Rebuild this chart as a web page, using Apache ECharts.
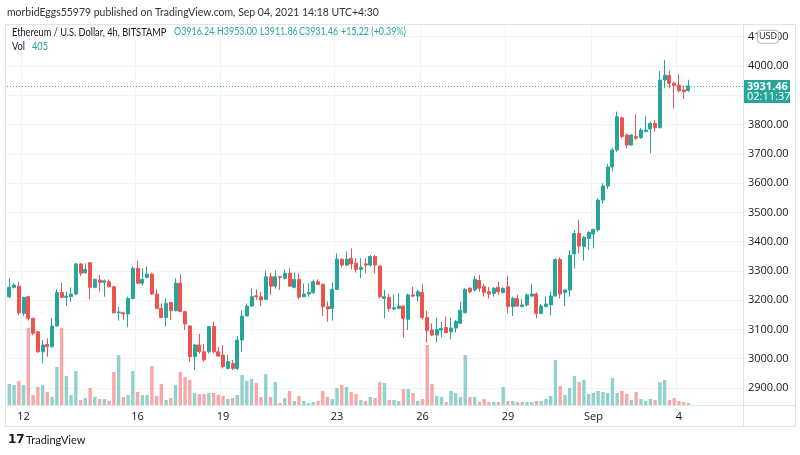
<!DOCTYPE html>
<html><head><meta charset="utf-8">
<script src="https://cdn.jsdelivr.net/npm/echarts@6.0.0/dist/echarts.min.js"></script>
<style>html,body{margin:0;padding:0;background:#fff}#c{width:800px;height:455px}</style>
</head><body><div id="c"></div>
<script>
// ---- data (ETH/USD 4h, Bitstamp) ----
const startMs = Date.UTC(2021, 7, 11, 12);
const stepMs = 4 * 3600 * 1000;
const slotCount = 155; // candles + empty future slots
const opens = [
3212,3244,3248,3155,3212,3138,3092,3024,3049,3041,3112,3226,
3210,3212,3221,3324,3294,3328,3244,3269,3261,3263,3246,3157,
3157,3153,3206,3309,3258,3278,3289,3221,3172,3141,3192,3164,
3258,3161,3112,3007,3047,3024,3024,3110,3024,3013,2967,2984,
2967,3064,3146,3180,3215,3212,3203,3280,3248,3280,3275,3292,
3244,3271,3212,3221,3226,3263,3254,3178,3172,3237,3340,3320,
3343,3326,3305,3324,3320,3349,3317,3206,3210,3170,3172,3180,
3135,3218,3214,3226,3141,3098,3081,3098,3107,3092,3105,3121,
3157,3241,3235,3267,3246,3229,3223,3244,3226,3246,3178,3206,
3178,3184,3214,3221,3155,3178,3184,3214,3339,3226,3235,3358,
3428,3383,3411,3426,3440,3542,3590,3655,3713,3823,3764,3730,
3759,3755,3776,3785,3804,3789,3952,3967,3941,3935,3918,3916.24];
const highs = [
3275,3258,3263,3212,3214,3140,3095,3064,3070,3140,3237,3260,
3229,3244,3326,3326,3326,3330,3275,3286,3271,3271,3249,3176,
3161,3212,3315,3335,3309,3315,3294,3237,3189,3206,3195,3275,
3289,3162,3113,3050,3085,3050,3112,3127,3041,3047,3013,2996,
3078,3166,3189,3240,3237,3229,3301,3294,3301,3283,3305,3309,
3294,3292,3257,3257,3271,3271,3257,3195,3260,3360,3343,3366,
3377,3343,3343,3343,3354,3354,3318,3235,3223,3218,3223,3181,
3223,3246,3237,3255,3164,3121,3141,3127,3144,3141,3132,3195,
3241,3244,3283,3286,3255,3246,3244,3263,3246,3283,3212,3218,
3203,3223,3255,3226,3187,3212,3229,3343,3346,3237,3371,3440,
3474,3419,3436,3444,3548,3600,3665,3720,3844,3827,3770,3767,
3835,3789,3830,3810,3815,3983,4021,3983,3946,3972,3933,3953.00];
const lows = [
3206,3240,3149,3146,3130,3080,3020,2984,3007,3038,3110,3208,
3180,3195,3218,3283,3290,3203,3240,3229,3212,3244,3155,3130,
3132,3107,3203,3255,3249,3275,3218,3169,3138,3110,3132,3162,
3160,3098,2990,2961,3018,2990,3018,3018,3007,2967,2964,2961,
2961,3024,3144,3178,3201,3180,3201,3218,3240,3235,3271,3246,
3240,3203,3210,3212,3221,3252,3146,3127,3130,3235,3312,3317,
3305,3294,3275,3292,3314,3292,3206,3138,3161,3166,3169,3073,
3098,3210,3195,3135,3055,3078,3055,3073,3087,3066,3089,3119,
3155,3223,3229,3229,3212,3206,3212,3218,3223,3155,3146,3178,
3176,3178,3212,3138,3153,3176,3149,3212,3206,3180,3212,3309,
3360,3335,3371,3377,3434,3530,3580,3640,3707,3753,3719,3728,
3747,3751,3773,3702,3776,3787,3924,3924,3855,3910,3887,3911.86];
const closes = [
3244,3252,3157,3209,3138,3087,3024,3047,3041,3112,3226,3210,
3214,3221,3324,3292,3305,3244,3271,3261,3266,3246,3157,3160,
3153,3206,3309,3258,3271,3289,3221,3172,3141,3189,3164,3258,
3161,3119,3007,3047,3024,2996,3110,3024,3009,2973,2990,2967,
3064,3146,3180,3212,3212,3201,3280,3248,3280,3278,3292,3248,
3271,3210,3221,3226,3263,3254,3178,3170,3237,3340,3320,3340,
3324,3305,3312,3320,3349,3320,3212,3212,3172,3174,3180,3138,
3218,3214,3229,3141,3096,3081,3100,3104,3089,3105,3127,3166,
3237,3229,3271,3241,3226,3221,3241,3229,3240,3178,3206,3180,
3184,3218,3221,3155,3180,3187,3214,3339,3221,3235,3354,3428,
3385,3415,3431,3442,3542,3590,3655,3713,3827,3759,3730,3764,
3753,3781,3781,3804,3789,3952,3969,3941,3933,3915,3912,3931.46];
const volumes = [
4200,4000,4800,4000,15400,2000,3600,4000,2600,1600,7600,15400,
5800,2000,6800,1000,1400,3400,1600,1200,1200,800,6600,10000,
1600,2000,6800,2600,2000,2000,7800,1800,4200,1000,1400,4000,
6600,5600,5000,2400,2200,2200,2400,2400,2000,1800,1200,1400,
2000,6000,4800,5200,4400,1600,6200,1600,4600,400,1400,2800,
800,1800,800,400,600,800,2800,1600,1200,3400,4000,3600,
2600,2200,1000,800,1600,1400,4600,4400,1000,1000,800,3200,
3200,2400,800,1200,12000,4200,1800,1600,600,2800,2400,1600,
10000,1600,1600,600,1200,600,600,600,3600,800,800,600,
600,600,600,800,800,1200,1800,9000,3800,2000,3400,5800,
4600,5000,2200,2400,2800,2600,2400,5400,2400,2800,2200,1000,
2600,1200,800,1200,1000,4600,5000,1000,1400,800,600,405];
const priceTicks = [2900,3000,3100,3200,3300,3400,3500,3600,3700,3800,3900,4000,4100];
const dayTickLabels = {
  '2021-08-12 00:00':'12','2021-08-16 00:00':'16','2021-08-19 00:00':'19',
  '2021-08-23 00:00':'23','2021-08-26 00:00':'26','2021-08-29 00:00':'29',
  '2021-09-01 00:00':'Sep','2021-09-04 00:00':'4'};
const lastInfo = {open:'3916.24', high:'3953.00', low:'3911.86', close:'3931.46', change:'+15.22 (+0.39%)', vol:'405', countdown:'02:11:37'};

// ---- build ----
const categories = [];
for (let i = 0; i < slotCount; i++) {
  categories.push(new Date(startMs + i * stepMs).toISOString().slice(0,16).replace('T',' '));
}
const UP = '#26a69a', DOWN = '#ef5350';
const ohlc = opens.map((o,i)=>[o, closes[i], lows[i], highs[i]]);
const volData = volumes.map((v,i)=>({value:v, itemStyle:{color: closes[i] >= opens[i] ? 'rgba(38,166,154,0.5)' : 'rgba(239,83,80,0.5)'}}));
const lastClose = closes[closes.length-1];
const FONT = 'Open Sans';
const HFONT = 'Lato';
const isDayTick = (idx, val) => Object.prototype.hasOwnProperty.call(dayTickLabels, val);

const chart = echarts.init(document.getElementById('c'));
chart.setOption({
  animation:false,
  textStyle:{fontFamily:FONT},
  grid:{left:7, top:25, width:736, height:380},
  xAxis:{type:'category', data:categories, boundaryGap:true,
    axisLine:{show:true, lineStyle:{color:'#e0e3eb'}},
    axisTick:{show:false, alignWithLabel:true, interval:isDayTick},
    axisLabel:{interval:isDayTick, formatter:v=>dayTickLabels[v]||'', color:'#131722', fontSize:11, margin:6, fontFamily:FONT},
    splitLine:{show:true, interval:isDayTick, lineStyle:{color:'#f0f3fa'}}},
  yAxis:[{type:'value', position:'right', min:2842, max:4140,
    axisLine:{show:true, lineStyle:{color:'#e0e3eb'}},
    axisTick:{show:false, customValues:priceTicks},
    axisLabel:{customValues:priceTicks, formatter:v=>v.toFixed(2), color:'#131722', fontSize:11, margin:5, fontFamily:FONT},
    splitLine:{show:true, lineStyle:{color:'#f0f3fa'}}},
    {type:'value', min:0, max:76000, show:false, splitLine:{show:false}}],
  series:[
    {type:'bar', yAxisIndex:1, data:volData, barWidth:3.4, silent:true},
    {type:'candlestick', data:ohlc, barWidth:3.5,
      itemStyle:{color:UP, color0:DOWN, borderColor:UP, borderColor0:DOWN, borderWidth:1},
      markLine:{symbol:'none', silent:true, label:{show:false},
        lineStyle:{type:[1,2], color:UP, width:1, opacity:0.9},
        data:[{yAxis:lastClose}]}}
  ]
});

const yLast = chart.convertToPixel({yAxisIndex:0}, lastClose);
const y4100 = chart.convertToPixel({yAxisIndex:0}, 4100);
const txt = (x,y,s,fill,size,extra,font,sx) => ({type:'text', x, y, scaleX:sx||1, style:Object.assign({text:s, fill, fontSize:size||11, fontFamily:font||FONT, verticalAlign:'middle'}, extra||{})});
const HS = 0.85, HSZ = 10.5;
chart.setOption({graphic:[
  {type:'rect', shape:{x:5.5,y:24.5,width:790,height:402}, style:{fill:'none', stroke:'#e0e3eb', lineWidth:1}, z:-1},
  {type:'line', shape:{x1:743.5,y1:405,x2:743.5,y2:426}, style:{stroke:'#e0e3eb'}},
  {type:'line', shape:{x1:743,y1:405.5,x2:795,y2:405.5}, style:{stroke:'#e0e3eb'}},
  txt(7,12,'morbidEggs55979 published on TradingView.com, Sep 04, 2021 14:18 UTC+4:30','#333',11,null,HFONT,0.95),
  txt(12,32,'Ethereum / U.S. Dollar, 4h, BITSTAMP','#131722',11,null,HFONT,0.84),
  txt(174,32,'O'+lastInfo.open,UP,HSZ,null,HFONT,HS),
  txt(217,32,'H'+lastInfo.high,UP,HSZ,null,HFONT,HS),
  txt(260,32,'L'+lastInfo.low,UP,HSZ,null,HFONT,HS),
  txt(299,32,'C'+lastInfo.close,UP,HSZ,null,HFONT,HS),
  txt(341,32,lastInfo.change,UP,HSZ,null,HFONT,HS),
  txt(12,46,'Vol','#131722',11,null,HFONT,0.84),
  txt(32,46,lastInfo.vol,UP,11,null,HFONT,0.84),
  {type:'rect', shape:{x:757.5,y:y4100-6.5,width:21,height:13,r:3}, style:{fill:'#fff', stroke:'#b2b5be', lineWidth:1}, z:100},
  Object.assign(txt(768,y4100,'USD','#131722',9,{align:'center'}),{z:101}),
  {type:'rect', shape:{x:744,y:yLast-6,width:46,height:23}, style:{fill:UP}, z:100},
  Object.assign(txt(747,yLast+0.5,lastInfo.close,'#fff',11,{fontWeight:'bold'}),{z:101}),
  Object.assign(txt(747,yLast+11,lastInfo.countdown,'#fff',11),{z:101}),
  txt(8,440,'17','#131722',12,{fontWeight:'bold'},'DejaVu Sans'),
  txt(26,440,'TradingView','#131722',11,null,HFONT)
]});
</script></body></html>
